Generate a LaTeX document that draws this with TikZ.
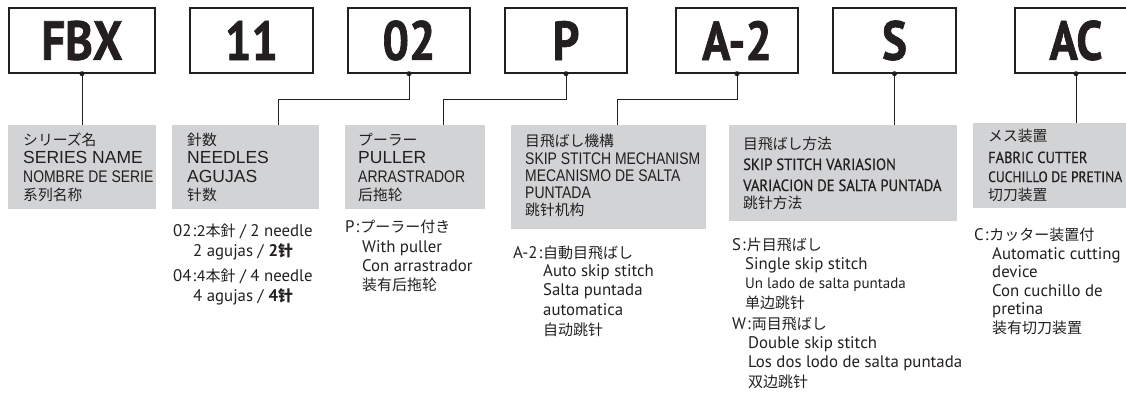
\documentclass[tikz,border=0pt]{standalone}
\usepackage{fontspec}
\setmainfont{Liberation Sans}
\newfontfamily\hv{Liberation Sans}
\newfontfamily\hvn{Liberation Sans}[FakeStretch=0.83]
\newfontfamily\my{PT Sans}
\newfontfamily\myc{PT Sans}[FakeStretch=0.85,FakeBold=1.2]
\newfontfamily\mys{PT Sans}[FakeStretch=0.9,FakeBold=0.5]
\newfontfamily\jp{Noto Sans CJK JP}
\newfontfamily\zh{Noto Sans CJK SC}
\newcommand\px[1]{\fontsize{#1}{#1}\selectfont}
\definecolor{txtc}{RGB}{35,31,32}
\definecolor{graybg}{RGB}{209,211,212}
\tikzset{
  codebox/.style={draw=txtc, line width=1.4pt, minimum height=65pt, inner sep=0pt,
    text=txtc, font=\myc\bfseries\px{55}},
  graybox/.style={fill=graybg, draw=none, anchor=north west, inner sep=0pt},
  ln/.style={anchor=base west, inner sep=0pt, text=txtc},
  wire/.style={draw=txtc, line width=1pt},
  pin/.style={circle, fill=txtc, inner sep=0pt, minimum size=5pt},
  gj/.style={ln, font=\jp\px{14.8}},
  gz/.style={ln, font=\zh\px{14.8}},
  gl/.style={ln, font=\hv\px{17.5}},
  gn/.style={ln, font=\hvn\px{16.8}},
  gs/.style={ln, font=\mys\px{16.3}},
  lo/.style={ln, font=\my\px{16.8}},
}
\newcommand\J[1]{{\jp\px{15}#1}}
\newcommand\Z[1]{{\zh\px{15}#1}}
\begin{document}
\begin{tikzpicture}[x=1pt,y=-1pt]
\useasboundingbox (0,0) rectangle (1126,394);
% code boxes
\node[codebox, minimum width=146pt] (cFBX) at (82,40.5) {FBX};
\node[codebox, minimum width=123pt] (c11) at (251.5,40.5) {11};
\node[codebox, minimum width=122pt] (c02) at (409,40.5) {02};
\node[codebox, minimum width=122pt] (cP) at (566,40.5) {P};
\node[codebox, minimum width=122pt] (cA2) at (737,40.5) {A-2};
\node[codebox, minimum width=123pt] (cS) at (894.5,40.5) {S};
\node[codebox, minimum width=122pt] (cAC) at (1076,40.5) {AC};
% gray boxes
\node[graybox, minimum width=148pt, minimum height=84pt] (g1) at (8,125) {};
\node[graybox, minimum width=147pt, minimum height=84pt] (g2) at (172,125) {};
\node[graybox, minimum width=140pt, minimum height=84pt] (g3) at (345,125) {};
\node[graybox, minimum width=195pt, minimum height=104pt] (g4) at (511,125) {};
\node[graybox, minimum width=228pt, minimum height=96pt] (g5) at (729,125) {};
\node[graybox, minimum width=160pt, minimum height=85pt] (g6) at (973,123) {};
% entry points
\coordinate (e2) at (278,125);
\coordinate (e3) at (443,125);
\coordinate (e4) at (617,125);
\coordinate (e5) at (894.5,125);
\coordinate (e6) at (1076,123);
% connectors
\draw[wire] (cFBX.south) -- (cFBX.south |- g1.north);
\draw[wire] (c02.south) -- ++(0,26) -| (e2);
\draw[wire] (cP.south) -- ++(0,26) -| (e3);
\draw[wire] (cA2.south) -- ++(0,26) -| (e4);
\draw[wire] (cS.south) -- (e5);
\draw[wire] (cAC.south) -- (e6);
\node[pin] (d1) at (cFBX.south) {};
\node[pin] (d2) at (c02.south) {};
\node[pin] (d3) at (cP.south) {};
\node[pin] (d4) at (cA2.south) {};
\node[pin] (d5) at (cS.south) {};
\node[pin] (d6) at (cAC.south) {};
% gray box texts
\node[gj] (t1a) at (23,145) {シリーズ名};
\node[gl] (t1b) at (23,163) {SERIES NAME};
\node[gn] (t1c) at (23,182) {NOMBRE DE SERIE};
\node[gz] (t1d) at (23,200) {系列名称};
\node[gj] (t2a) at (187,145) {針数};
\node[gl] (t2b) at (187,163) {NEEDLES};
\node[gl] (t2c) at (187,182) {AGUJAS};
\node[gz] (t2d) at (187,200) {针数};
\node[gj] (t3a) at (358,145) {プーラー};
\node[gl] (t3b) at (358,163) {PULLER};
\node[gn] (t3c) at (358,182) {ARRASTRADOR};
\node[gz] (t3d) at (358,200) {后拖轮};
\node[gj] (t4a) at (525,146) {目飛ばし機構};
\node[gn] (t4b) at (525,164) {SKIP STITCH MECHANISM};
\node[gn] (t4c) at (525,181) {MECANISMO DE SALTA};
\node[gn] (t4d) at (525,198) {PUNTADA};
\node[gz] (t4e) at (525,215) {跳针机构};
\node[gj] (t5a) at (743,149) {目飛ばし方法};
\node[gs] (t5b) at (743,170) {SKIP STITCH VARIASION};
\node[gs] (t5c) at (743,191) {VARIACION DE SALTA PUNTADA};
\node[gz] (t5d) at (743,208) {跳针方法};
\node[gj] (t6a) at (988,141) {メス装置};
\node[gs, font=\mys\px{16}] (t6b) at (988,163) {FABRIC CUTTER};
\node[gs, font=\mys\px{15}] (t6c) at (988,182) {CUCHILLO DE PRETINA};
\node[gz] (t6d) at (988,200) {切刀装置};
% option texts
\node[lo] (o2a) at (173,236) {02\kern1pt:\kern1pt\J{2本針} / 2 needle};
\node[lo] (o2b) at (193,256) {2 agujas / \textbf{2}\Z{\bfseries 针}};
\node[lo] (o2c) at (173,281) {04\kern1pt:\kern1pt\J{4本針} / 4 needle};
\node[lo] (o2d) at (193,301) {4 agujas / \textbf{4}\Z{\bfseries 针}};
\node[lo] (o3a) at (345,232) {P\kern1pt:\kern1pt\J{プーラー付き}};
\node[lo] (o3b) at (362,252) {With puller};
\node[lo] (o3c) at (362,271) {Con arrastrador};
\node[lo] (o3d) at (362,290) {\Z{装有后拖轮}};
\node[lo] (o4a) at (513,258) {A-2\kern1pt:\kern1pt\J{自動目飛ばし}};
\node[lo] (o4b) at (543,276) {Auto skip stitch};
\node[lo] (o4c) at (543,295) {Salta puntada};
\node[lo] (o4d) at (543,315) {automatica};
\node[lo] (o4e) at (543,335) {\Z{自动跳针}};
\node[lo] (o5a) at (732,250) {S\kern1pt:\kern1pt\J{片目飛ばし}};
\node[lo] (o5b) at (745,269) {Single skip stitch};
\node[lo, font=\my\px{15}] (o5c) at (745,288) {Un lado de salta puntada};
\node[lo] (o5d) at (745,308) {\Z{单边跳针}};
\node[lo] (o5e) at (732,329) {W\kern1pt:\kern1pt\J{両目飛ばし}};
\node[lo] (o5f) at (748,348) {Double skip stitch};
\node[lo] (o5g) at (748,367) {Los dos lodo de salta puntada};
\node[lo] (o5h) at (748,387) {\Z{双边跳针}};
\node[lo] (o6a) at (974,240) {C\kern1pt:\kern1pt\J{カッター装置付}};
\node[lo] (o6b) at (992,259) {Automatic cutting};
\node[lo] (o6c) at (992,277) {device};
\node[lo] (o6d) at (992,296) {Con cuchillo de};
\node[lo] (o6e) at (992,314) {pretina};
\node[lo] (o6f) at (992,333) {\Z{装有切刀装置}};
\end{tikzpicture}
\end{document}
